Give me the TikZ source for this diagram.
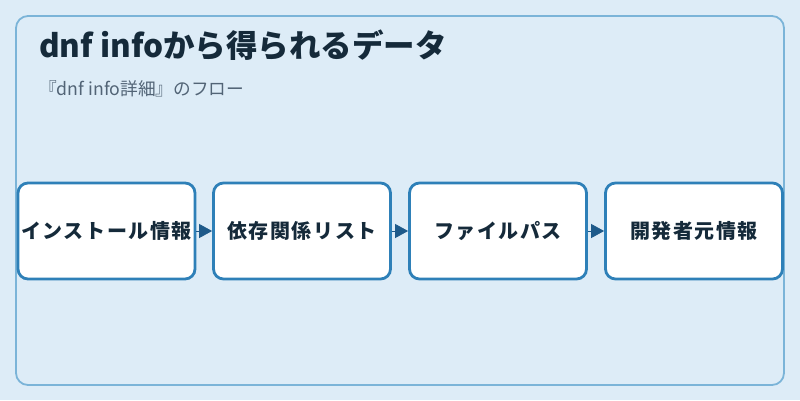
\documentclass[tikz,border=0pt]{standalone}
\usepackage{fontspec}
\setmainfont{Noto Sans CJK JP}
\newfontfamily\jpls{Noto Sans CJK JP}[LetterSpace=8]
\usetikzlibrary{arrows.meta}
\definecolor{bgc}{HTML}{DDECF7}
\definecolor{panelc}{HTML}{7BB4D8}
\definecolor{boxc}{HTML}{2E80B8}
\definecolor{arrc}{HTML}{1E5A8A}
\definecolor{titlec}{HTML}{152A3A}
\definecolor{subc}{HTML}{526476}
\tikzset{
  stepbox/.style={draw=boxc, line width=2.8pt, fill=white, rounded corners=10pt,
    minimum width=177pt, minimum height=96pt, inner sep=0pt,
    font=\jpls\bfseries\fontsize{20}{23}\selectfont, text=titlec},
  flow/.style={draw=arrc, fill=arrc, line width=0.8pt, -{Triangle[length=13pt,width=14pt]}},
}
\begin{document}
\begin{tikzpicture}[x=1pt,y=-1pt]
\useasboundingbox (0,0) rectangle (800,400);
\fill[bgc] (0,0) rectangle (800,400);
\draw[panelc, line width=1.8pt, rounded corners=12pt, fill=bgc] (16,16) rectangle (784,385);
\node[anchor=base west, text=titlec, font=\bfseries\fontsize{31.5}{36}\selectfont, inner sep=0pt] (title) at (39,57.5) {dnf infoから得られるデータ};
\node[anchor=base west, text=subc, font=\fontsize{17.7}{20}\selectfont, inner sep=0pt] (sub) at (39,95) {『dnf info詳細』のフロー};
\node[stepbox] (b1) at (106.5,231) {インストール情報};
\node[stepbox] (b2) at (302,231) {依存関係リスト};
\node[stepbox] (b3) at (498,231) {ファイルパス};
\node[stepbox] (b4) at (694,231) {開発者元情報};
\draw[flow] (b1) -- (b2);
\draw[flow] (b2) -- (b3);
\draw[flow] (b3) -- (b4);
\end{tikzpicture}
\end{document}
